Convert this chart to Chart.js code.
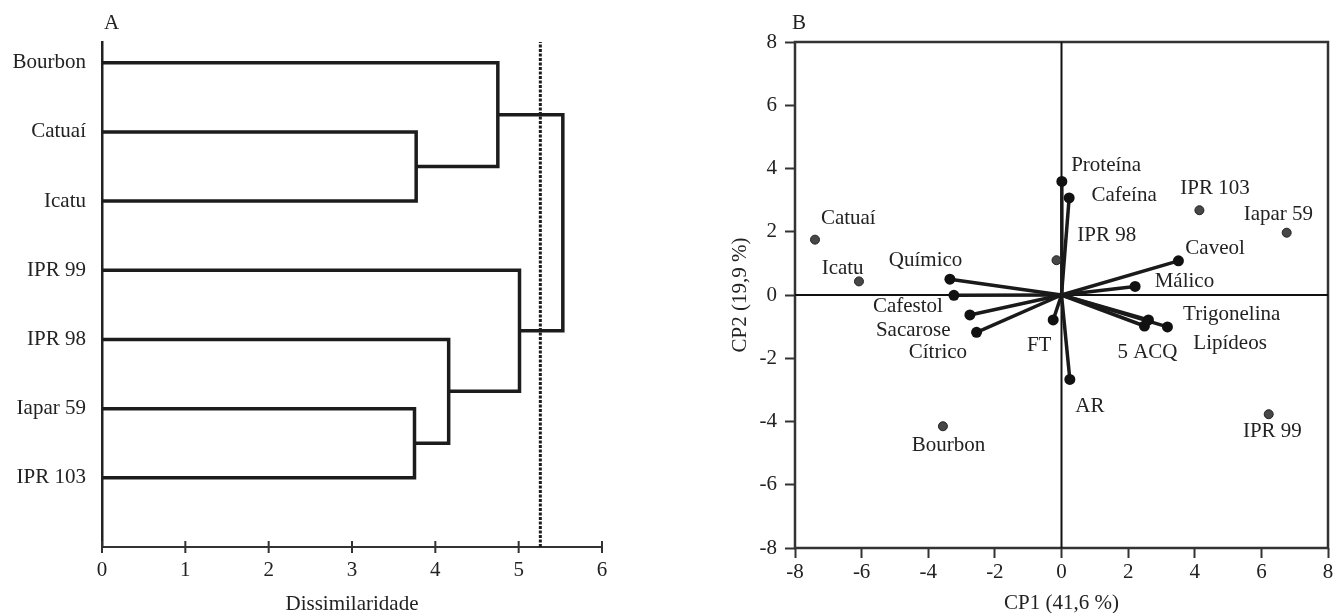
<!DOCTYPE html>
<html>
<head>
<meta charset="utf-8">
<script src="https://cdn.jsdelivr.net/npm/chart.js@4.4.1/dist/chart.umd.min.js"></script>
<style>
html, body { margin: 0; padding: 0; background: #fff; }
#wrap { position: relative; width: 1336px; height: 613px; overflow: hidden; }
.panel { position: absolute; top: 0; height: 613px; }
#boxA { left: 0; width: 660px; }
#boxB { left: 680px; width: 656px; }
.tag { position: absolute; top: 12px; font: 21px "Liberation Serif", serif; line-height: 1; color: #222; }
</style>
</head>
<body>
<div id="wrap">
    <div class="panel" id="boxA"><canvas id="chartA" width="660" height="613"></canvas></div>
    <div class="panel" id="boxB"><canvas id="chartB" width="656" height="613"></canvas></div>
    <div class="tag" style="left:104px">A</div>
    <div class="tag" style="left:792px">B</div>
</div>
<script>
// ---- panel A: dendrogram ----
const leaves = ['Bourbon', 'Catuaí', 'Icatu', 'IPR 99', 'IPR 98', 'Iapar 59', 'IPR 103'];
// node ids: 0-6 leaves, 7+ clusters in merge order
const mergeA = [1, 5, 4, 0, 3, 10];
const mergeB = [2, 6, 8, 7, 9, 11];
const mergeHeight = [3.77, 3.75, 4.16, 4.75, 5.01, 5.53];
const cutHeight = 5.26;
const dissTicks = [0, 1, 2, 3, 4, 5, 6];

// ---- panel B: PCA biplot ----
const sampleNames = ['Catuaí', 'Icatu', 'IPR 98', 'IPR 103', 'Iapar 59', 'Bourbon', 'IPR 99'];
const sampleX = [-7.40, -6.08, -0.15, 4.14, 6.76, -3.56, 6.22];
const sampleY = [1.75, 0.43, 1.10, 2.68, 1.97, -4.15, -3.77];
const sampleLabelX = [-6.40, -6.57, 1.36, 4.61, 6.51, -3.39, 6.33];
const sampleLabelY = [2.42, 0.83, 1.87, 3.38, 2.55, -4.75, -4.30];

const varNames = ['Proteína', 'Cafeína', 'Caveol', 'Málico', 'Químico', 'Cafestol', 'Sacarose',
                  'Cítrico', 'FT', 'AR', 'Trigonelina', '5 ACQ', 'Lipídeos'];
const varX = [0.01, 0.23, 3.51, 2.21, -3.35, -3.23, -2.75, -2.55, -0.25, 0.25, 2.61, 2.49, 3.18];
const varY = [3.59, 3.07, 1.08, 0.27, 0.50, -0.01, -0.63, -1.18, -0.79, -2.67, -0.79, -0.98, -1.01];
const varLabelX = [1.34, 1.88, 4.61, 3.69, -4.08, -4.61, -4.45, -3.71, -0.67, 0.85, 5.11, 2.58, 5.06];
const varLabelY = [4.08, 3.16, 1.48, 0.42, 1.10, -0.35, -1.12, -1.82, -1.59, -3.51, -0.61, -1.82, -1.54];

const FONT = '"Liberation Serif", "Times New Roman", serif';
const INK = '#222';

Chart.defaults.font.family = FONT;
Chart.defaults.font.size = 21;
Chart.defaults.color = INK;

// build dendrogram node positions
const nodeY = leaves.map((n, i) => leaves.length - i);
const nodeH = leaves.map(() => 0);
mergeA.forEach((a, k) => {
    const b = mergeB[k];
    nodeY.push((nodeY[a] + nodeY[b]) / 2);
    nodeH.push(mergeHeight[k]);
});

const dendroSets = mergeA.map((a, k) => {
    const b = mergeB[k];
    const h = mergeHeight[k];
    return {
        data: [
            {x: nodeH[a], y: nodeY[a]},
            {x: h, y: nodeY[a]},
            {x: h, y: nodeY[b]},
            {x: nodeH[b], y: nodeY[b]}
        ],
        showLine: true,
        borderColor: '#1c1c1c',
        borderWidth: 3.5,
        borderJoinStyle: 'miter',
        pointRadius: 0,
        fill: false,
        clip: false
    };
});

dendroSets.push({
    data: [{x: cutHeight, y: 0}, {x: cutHeight, y: 7.3}],
    showLine: true,
    borderColor: '#1c1c1c',
    borderWidth: 3,
    borderDash: [3, 1.5],
    pointRadius: 0,
    clip: false
});

const crossTicks = {
    id: 'crossTicks',
    afterDraw(chart) {
        const {ctx, scales: {x}} = chart;
        ctx.save();
        ctx.strokeStyle = '#333';
        ctx.lineWidth = 2;
        dissTicks.forEach(v => {
            const px = x.getPixelForValue(v);
            ctx.beginPath();
            ctx.moveTo(px, x.top - 6);
            ctx.lineTo(px, x.top + 6);
            ctx.stroke();
        });
        ctx.restore();
    }
};

new Chart(document.getElementById('chartA'), {
    type: 'scatter',
    data: {datasets: dendroSets},
    options: {
        responsive: false,
        animation: false,
        layout: {padding: {top: 42, right: 58, left: 0, bottom: 0}},
        plugins: {legend: {display: false}, tooltip: {enabled: false}},
        scales: {
            x: {
                type: 'linear',
                min: 0,
                max: 6,
                afterBuildTicks: s => { s.ticks = dissTicks.map(v => ({value: v})); },
                ticks: {padding: 11, color: INK},
                grid: {display: false, drawTicks: false},
                border: {display: true, color: '#333', width: 2},
                title: {display: true, text: 'Dissimilaridade', color: INK,
                        font: {size: 21, lineHeight: 0.8}, padding: {top: 0, bottom: 0}},
                afterFit: s => { s.height = 66; }
            },
            y: {
                type: 'linear',
                min: 0,
                max: 7.3,
                afterBuildTicks: s => { s.ticks = leaves.map((n, i) => ({value: leaves.length - i})); },
                ticks: {padding: 16, color: INK, callback: v => leaves[leaves.length - v]},
                grid: {display: false, drawTicks: false},
                border: {display: true, color: INK, width: 2.5},
                afterFit: s => { s.width = 102; }
            }
        }
    },
    plugins: [crossTicks]
});

// ---- panel B ----
const boxFrame = {
    id: 'boxFrame',
    beforeDatasetsDraw(chart) {
        const {ctx, chartArea: a} = chart;
        ctx.save();
        ctx.strokeStyle = '#333';
        ctx.lineWidth = 2.5;
        ctx.strokeRect(a.left, a.top, a.right - a.left, a.bottom - a.top);
        ctx.restore();
    }
};

const pointLabels = {
    id: 'pointLabels',
    afterDatasetsDraw(chart) {
        const {ctx, scales: {x, y}} = chart;
        ctx.save();
        ctx.font = '21px ' + FONT;
        ctx.fillStyle = INK;
        ctx.textAlign = 'center';
        ctx.textBaseline = 'middle';
        sampleNames.forEach((n, i) => {
            ctx.fillText(n, x.getPixelForValue(sampleLabelX[i]), y.getPixelForValue(sampleLabelY[i]));
        });
        varNames.forEach((n, i) => {
            ctx.fillText(n, x.getPixelForValue(varLabelX[i]), y.getPixelForValue(varLabelY[i]));
        });
        ctx.restore();
    }
};

const biplotSets = [];
biplotSets.push({
    data: sampleX.map((v, i) => ({x: v, y: sampleY[i]})),
    pointRadius: 4.5,
    pointBackgroundColor: '#474747',
    pointBorderColor: '#222',
    pointBorderWidth: 1
});
varNames.forEach((n, i) => {
    biplotSets.push({
        data: [{x: 0, y: 0}, {x: varX[i], y: varY[i]}],
        showLine: true,
        borderColor: '#1a1a1a',
        borderWidth: 3.5,
        pointRadius: [0, 5.5],
        pointBackgroundColor: '#111',
        pointBorderColor: '#111',
        pointBorderWidth: 0
    });
});
biplotSets.push({
    data: [{x: 0, y: -8}, {x: 0, y: 8}],
    showLine: true, borderColor: '#111', borderWidth: 2, pointRadius: 0
});
biplotSets.push({
    data: [{x: -8, y: 0}, {x: 8, y: 0}],
    showLine: true, borderColor: '#111', borderWidth: 2, pointRadius: 0
});

const axisB = (titleText, isX) => ({
    type: 'linear',
    min: -8,
    max: 8,
    ticks: {stepSize: 2, padding: isX ? 2 : 8, color: INK},
    grid: {drawOnChartArea: false, tickLength: 10, tickWidth: 2, tickColor: '#333'},
    border: {display: false},
    title: {display: true, text: titleText, color: INK,
            font: {size: 21, lineHeight: 0.95},
            padding: isX ? {top: 0, bottom: 0} : {top: 50.5, bottom: 0}},
    afterFit: isX ? (s => { s.height = 65; }) : (s => { s.width = 115; })
});

new Chart(document.getElementById('chartB'), {
    type: 'scatter',
    data: {datasets: biplotSets},
    options: {
        responsive: false,
        animation: false,
        layout: {padding: {top: 42, right: 8, left: 0, bottom: 0}},
        plugins: {legend: {display: false}, tooltip: {enabled: false}},
        scales: {
            x: axisB('CP1 (41,6 %)', true),
            y: axisB('CP2 (19,9 %)', false)
        }
    },
    plugins: [boxFrame, pointLabels]
});
</script>
</body>
</html>
